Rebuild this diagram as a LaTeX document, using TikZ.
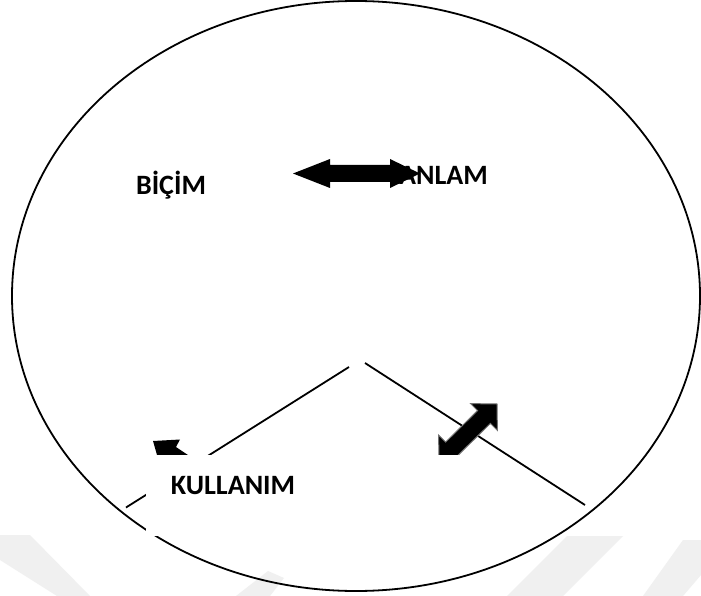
\documentclass[tikz,border=0pt]{standalone}
\usepackage{fontspec}
\setmainfont{Carlito}
\tikzset{
  label text/.style={font=\fontsize{28}{32}\selectfont\bfseries, inner sep=0pt},
  outline/.style={line width=1.8pt, black},
  mark band/.style={fill=black!6},
  block arrow/.style={fill=black}
}
\begin{document}
\begin{tikzpicture}[x=1pt,y=-1pt]
  % page
  \fill[white] (0,0) rectangle (701,596);
  \useasboundingbox (0,0) rectangle (701,596);

  % faint background bands
  \fill[mark band] (0,535) -- (30,535) -- (90,596) -- (57,596) -- (0,560) -- cycle;
  \fill[mark band] (236,596) -- (268,571) -- (284,578) -- (270,596) -- cycle;
  \fill[mark band] (567,536) -- (623,536) -- (563,596) -- (507,596) -- cycle;
  \fill[mark band] (683,540) -- (701,540) -- (701,575) -- (683,596) -- (643,596) -- cycle;

  % outer ellipse
  \draw[outline] (356,296) ellipse [x radius=344pt, y radius=295pt];
  \fill[white] (658,145) circle (1.3pt);

  % lower branches
  \coordinate (apexL) at (349,367);
  \coordinate (apexR) at (365,363);
  \coordinate (footL) at (126,507.5);
  \coordinate (footR) at (585,505);
  \draw[outline] (apexL) -- (footL);
  \draw[outline] (apexR) -- (footR);

  % labels
  \node[label text] (bicim) at (171,185) {BİÇİM};
  \node[label text, anchor=east] (anlam) at (488,175) {ANLAM};

  % horizontal double arrow between the upper labels
  \fill[block arrow] (293,173.5) -- (330,159) -- (330,165) -- (390,165) -- (390,159)
    -- (420,173.5) -- (390,188) -- (390,182) -- (330,182) -- (330,188) -- cycle;

  % diagonal double arrow on the right branch
  \filldraw[block arrow, draw=black!55, line width=1pt]
    (497,404) -- (497.4,430.4) -- (490.4,423.4) -- (458.4,454.9) -- (465.4,461.9)
    -- (439,461.5) -- (438.6,435.1) -- (445.6,442.1) -- (477.6,410.6) -- (470.6,403.6) -- cycle;

  % small arrow head on the left
  \fill[block arrow] (153,441) -- (180,439.5) -- (176,447) -- (188,455) -- (157,455) -- cycle;

  % label panel of the lower node
  \fill[white] (146,455) rectangle (500,536);
  \node[label text] (kullanim) at (233,486) {KULLANIM};
\end{tikzpicture}
\end{document}
